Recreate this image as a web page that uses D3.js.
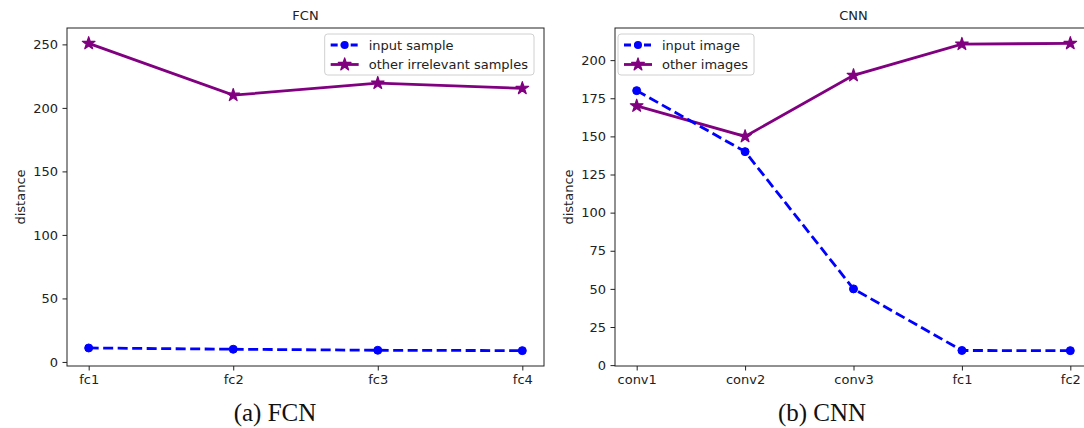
<!DOCTYPE html>
<html>
<head>
<meta charset="utf-8">
<script src="https://cdn.jsdelivr.net/npm/d3@7"></script>
<style>
  body { margin: 0; background: #fff; }
  svg { display: block; font-family: "DejaVu Sans", sans-serif; }
  .caption { font-family: "Liberation Serif", "Times New Roman", serif; }
</style>
</head>
<body>
<svg id="chart" width="1084" height="428"></svg>
<script>
// ---------- DATA ----------
const fcnLayers = ["fc1", "fc2", "fc3", "fc4"];
const fcnInput = [11, 10, 9.2, 8.9];
const fcnOther = [250.8, 210, 219.5, 215.4];
const fcnTicks = [0, 50, 100, 150, 200, 250];

const cnnLayers = ["conv1", "conv2", "conv3", "fc1", "fc2"];
const cnnInput = [180, 140, 50, 9.6, 9.5];
const cnnOther = [170, 150, 190, 210.5, 211];
const cnnTicks = [0, 25, 50, 75, 100, 125, 150, 175, 200];

const BLUE = "#0000ff";
const PURPLE = "#800080";

const svg = d3.select("#chart");

// star marker like matplotlib "*"
const starPath = d3.symbol().type(d3.symbolStar).size(50)();

function panel(opts) {
  const { x0, x1, y0, y1, layers, input, other, ticks, title, labels, legendSide, caption, capX } = opts;
  const g = svg.append("g");

  // matplotlib-style 5% margins
  const x = d3.scalePoint()
    .domain(layers)
    .range([x0, x1])
    .padding(0.05 * (layers.length - 1));

  const all = input.concat(other);
  const lo = d3.min(all), hi = d3.max(all);
  const pad = (hi - lo) * 0.05;
  const y = d3.scaleLinear().domain([lo - pad, hi + pad]).range([y1, y0]);

  // ---------- AXES ----------
  const xAxis = g.append("g")
    .attr("transform", `translate(0,${y1})`)
    .call(d3.axisBottom(x).tickSize(4.5).tickPadding(4));
  const yAxis = g.append("g")
    .attr("transform", `translate(${x0},0)`)
    .call(d3.axisLeft(y).tickValues(ticks).tickSize(4.5).tickPadding(4.5));
  [xAxis, yAxis].forEach(a => {
    a.select(".domain").remove();
    a.selectAll("line").attr("stroke", "#222").attr("stroke-width", 1);
    a.selectAll("text").attr("font-size", 13).attr("fill", "#222")
      .attr("font-family", "DejaVu Sans");
  });

  g.append("rect")
    .attr("x", x0).attr("y", y0)
    .attr("width", x1 - x0).attr("height", y1 - y0)
    .attr("fill", "none").attr("stroke", "#222").attr("stroke-width", 1);

  g.append("text")
    .attr("x", (x0 + x1) / 2).attr("y", y0 - 8)
    .attr("text-anchor", "middle").attr("font-size", 13).attr("fill", "#222")
    .text(title);

  g.append("text")
    .attr("transform", `translate(${x0 - 42},${(y0 + y1) / 2}) rotate(-90)`)
    .attr("text-anchor", "middle").attr("font-size", 13).attr("fill", "#222")
    .text("distance");

  // ---------- LINES ----------
  const line = d3.line().x((d, i) => x(layers[i])).y(d => y(d));

  g.append("path").datum(other)
    .attr("d", line).attr("fill", "none")
    .attr("stroke", PURPLE).attr("stroke-width", 2.8);
  g.selectAll(".star").data(other).join("path")
    .attr("class", "star")
    .attr("d", starPath)
    .attr("transform", (d, i) => `translate(${x(layers[i])},${y(d)})`)
    .attr("fill", PURPLE).attr("stroke", PURPLE).attr("stroke-width", 1.2)
    .attr("stroke-linejoin", "round");

  g.append("path").datum(input)
    .attr("d", line).attr("fill", "none")
    .attr("stroke", BLUE).attr("stroke-width", 2.8)
    .attr("stroke-dasharray", "10,4.5");
  g.selectAll(".dot").data(input).join("circle")
    .attr("class", "dot")
    .attr("cx", (d, i) => x(layers[i])).attr("cy", d => y(d))
    .attr("r", 4).attr("fill", BLUE).attr("stroke", BLUE).attr("stroke-width", 1);

  // ---------- LEGEND ----------
  const lg = g.append("g");
  const box = lg.append("rect")
    .attr("fill", "#fff").attr("fill-opacity", 0.8)
    .attr("stroke", "#d0d0d0").attr("rx", 3);
  const items = [
    { label: labels[0], color: BLUE, dash: "7,3", mark: "dot" },
    { label: labels[1], color: PURPLE, dash: null, mark: "star" }
  ];
  const rowY = [17, 36.5];
  const texts = [];
  items.forEach((it, i) => {
    const row = lg.append("g").attr("transform", `translate(0,${rowY[i]})`);
    row.append("line").attr("x1", 6).attr("x2", 34)
      .attr("stroke", it.color).attr("stroke-width", 2.8)
      .attr("stroke-dasharray", it.dash);
    if (it.mark === "dot") {
      row.append("circle").attr("cx", 20).attr("r", 4).attr("fill", it.color);
    } else {
      row.append("path").attr("d", starPath)
        .attr("transform", "translate(20,0)").attr("fill", it.color)
        .attr("stroke", it.color).attr("stroke-width", 1.2).attr("stroke-linejoin", "round");
    }
    texts.push(row.append("text").attr("x", 44).attr("dy", "0.35em")
      .attr("font-size", 13).attr("fill", "#222").text(it.label));
  });
  const tw = d3.max(texts, t => t.node().getComputedTextLength());
  const bw = 44 + tw + 6;
  box.attr("x", 0).attr("y", 6).attr("width", bw).attr("height", 41);
  const lx = legendSide === "right" ? x1 - 10 - bw : x0 + 3;
  lg.attr("transform", `translate(${lx},${y0})`);

  svg.append("text")
    .attr("class", "caption")
    .attr("x", capX).attr("y", 421)
    .attr("text-anchor", "middle")
    .attr("font-size", 25).attr("fill", "#111")
    .text(caption);
}

panel({
  x0: 67, x1: 544, y0: 28, y1: 366,
  layers: fcnLayers, input: fcnInput, other: fcnOther, ticks: fcnTicks,
  title: "FCN", labels: ["input sample", "other irrelevant samples"],
  legendSide: "right", caption: "(a) FCN", capX: 275
});

panel({
  x0: 615, x1: 1092, y0: 28, y1: 366,
  layers: cnnLayers, input: cnnInput, other: cnnOther, ticks: cnnTicks,
  title: "CNN", labels: ["input image", "other images"],
  legendSide: "left", caption: "(b) CNN", capX: 822
});
</script>
</body>
</html>
